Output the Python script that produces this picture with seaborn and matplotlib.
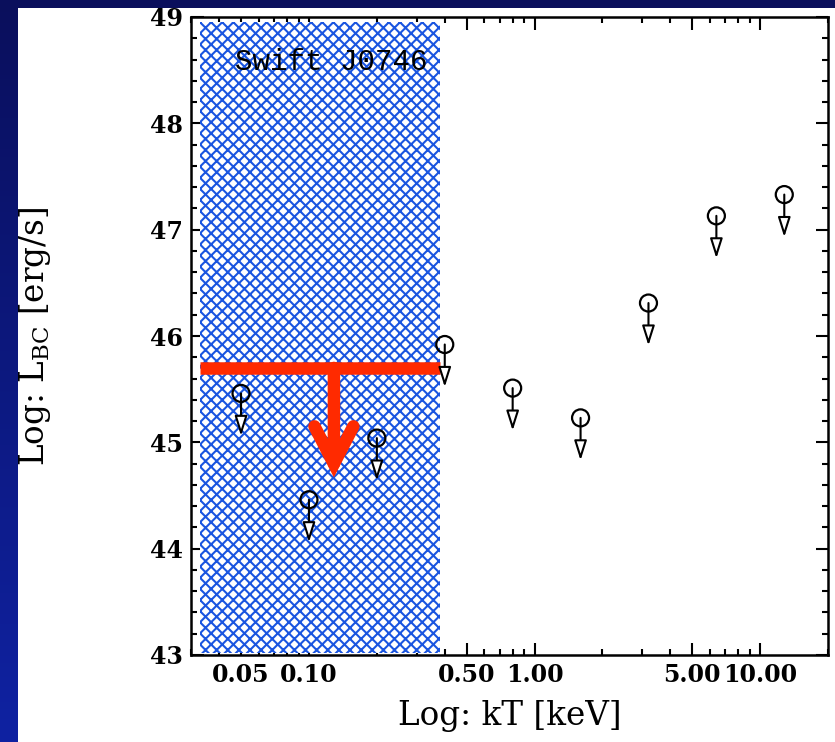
import numpy as np
import pandas as pd
import matplotlib
matplotlib.use("Agg")
import matplotlib.pyplot as plt
import seaborn as sns
from matplotlib.ticker import FixedLocator, FixedFormatter, LogLocator, MultipleLocator, NullFormatter
from matplotlib.patches import Rectangle
from matplotlib.colors import LinearSegmentedColormap

# ---- data ----
kT_keV = [0.05, 0.1, 0.2, 0.4, 0.8, 1.6, 3.2, 6.4, 12.8]
log_LBC = [45.46, 44.46, 45.04, 45.92, 45.51, 45.23, 46.31, 47.13, 47.33]
arrow_len = 0.4  # upper-limit arrow length (dex)

band_kT = [0.033, 0.38]      # hatched region
limit_LBC = 45.7             # red upper limit
limit_arrow_x = 0.129
limit_arrow_tip = 44.67

xtick_vals = [0.05, 0.10, 0.50, 1.00, 5.00, 10.00]
xtick_labels = ["0.05", "0.10", "0.50", "1.00", "5.00", "10.00"]
ytick_vals = [43, 44, 45, 46, 47, 48, 49]
source_name = "Swift J0746"

df = pd.DataFrame({"kT": kT_keV, "L": log_LBC})

sns.set_theme(style="white")
plt.rcParams["font.family"] = ["DejaVu Serif"]
plt.rcParams["mathtext.fontset"] = "dejavuserif"
plt.rcParams["hatch.linewidth"] = 1.5

fig = plt.figure(figsize=(8.35, 7.42), dpi=100)
W, H = 835, 742

# slide-like blue gradient background
bg = fig.add_axes([0, 0, 1, 1], zorder=-20)
cmap = LinearSegmentedColormap.from_list("bg", ["#0a0f5c", "#0f22a2"])
bg.imshow(np.linspace(0, 1, 256).reshape(-1, 1), aspect="auto", cmap=cmap,
          extent=[0, 1, 0, 1], origin="upper")
bg.set_xlim(0, 1); bg.set_ylim(0, 1)
bg.add_patch(Rectangle((18 / W, 0), 1 - 18 / W, 1 - 8 / H, facecolor="white",
                       edgecolor="none", zorder=5))
bg.axis("off")

ax = fig.add_axes([191 / W, 1 - 655 / H, (828 - 191) / W, (655 - 17) / H])
ax.set_zorder(1)
ax.set_xscale("log")
ax.set_xlim(0.03, 20)
ax.set_ylim(43, 49)
ax.set_facecolor("white")

# hatched region
ax.axvspan(band_kT[0], band_kT[1], ymin=0.003, ymax=0.992, facecolor="white",
           edgecolor="#1a55e0", hatch="xxx", linewidth=0, zorder=1)

# red upper limit
ax.plot(band_kT, [limit_LBC, limit_LBC], color="#ff2a00", lw=9, solid_capstyle="butt", zorder=3)
ax.annotate("", xy=(limit_arrow_x, limit_arrow_tip), xytext=(limit_arrow_x, limit_LBC),
            arrowprops=dict(arrowstyle="->,head_length=27,head_width=14", mutation_scale=1,
                            color="#ff2a00", lw=9, shrinkA=0, shrinkB=0,
                            joinstyle="miter", capstyle="round"), zorder=3)

# upper-limit points
sns.scatterplot(data=df, x="kT", y="L", ax=ax, marker="o", s=150,
                facecolors="none", edgecolor="black", linewidth=1.6, zorder=5)
for x, y in zip(kT_keV, log_LBC):
    ax.annotate("", xy=(x, y - arrow_len), xytext=(x, y),
                arrowprops=dict(arrowstyle="-|>,head_length=12,head_width=3.8", mutation_scale=1,
                                fc="white", ec="black", lw=1.5, shrinkA=0, shrinkB=0), zorder=6)

# ticks
ax.xaxis.set_major_locator(FixedLocator(xtick_vals))
ax.xaxis.set_major_formatter(FixedFormatter(xtick_labels))
ax.xaxis.set_minor_locator(LogLocator(base=10, subs=np.arange(1, 10), numticks=20))
ax.xaxis.set_minor_formatter(NullFormatter())
ax.yaxis.set_major_locator(FixedLocator(ytick_vals))
ax.yaxis.set_minor_locator(MultipleLocator(0.2))
ax.tick_params(which="both", direction="in", top=True, right=True, bottom=True, left=True,
               color="black", width=1.5, labelcolor="black")
ax.tick_params(which="major", length=9)
ax.tick_params(which="minor", length=4.5)
ax.tick_params(axis="both", which="major", labelsize=17, pad=6)
for lab in ax.get_xticklabels() + ax.get_yticklabels():
    lab.set_fontweight("bold")
for sp in ax.spines.values():
    sp.set_color("black")
    sp.set_linewidth(1.8)

ax.set_xlabel("Log: kT [keV]", fontsize=23.5, color="black")
ax.xaxis.set_label_coords(0.5, -0.07)
ax.set_ylabel(r"Log: L$_{\rm BC}$ [erg/s]", fontsize=23.5, color="black")
ax.yaxis.set_label_coords(-0.216, 0.5)

ax.text(0.22, 0.929, source_name, transform=ax.transAxes, ha="center", va="center",
        fontsize=21, family="Liberation Mono", color="black", zorder=4)

fig.savefig("out.png", dpi=100)
